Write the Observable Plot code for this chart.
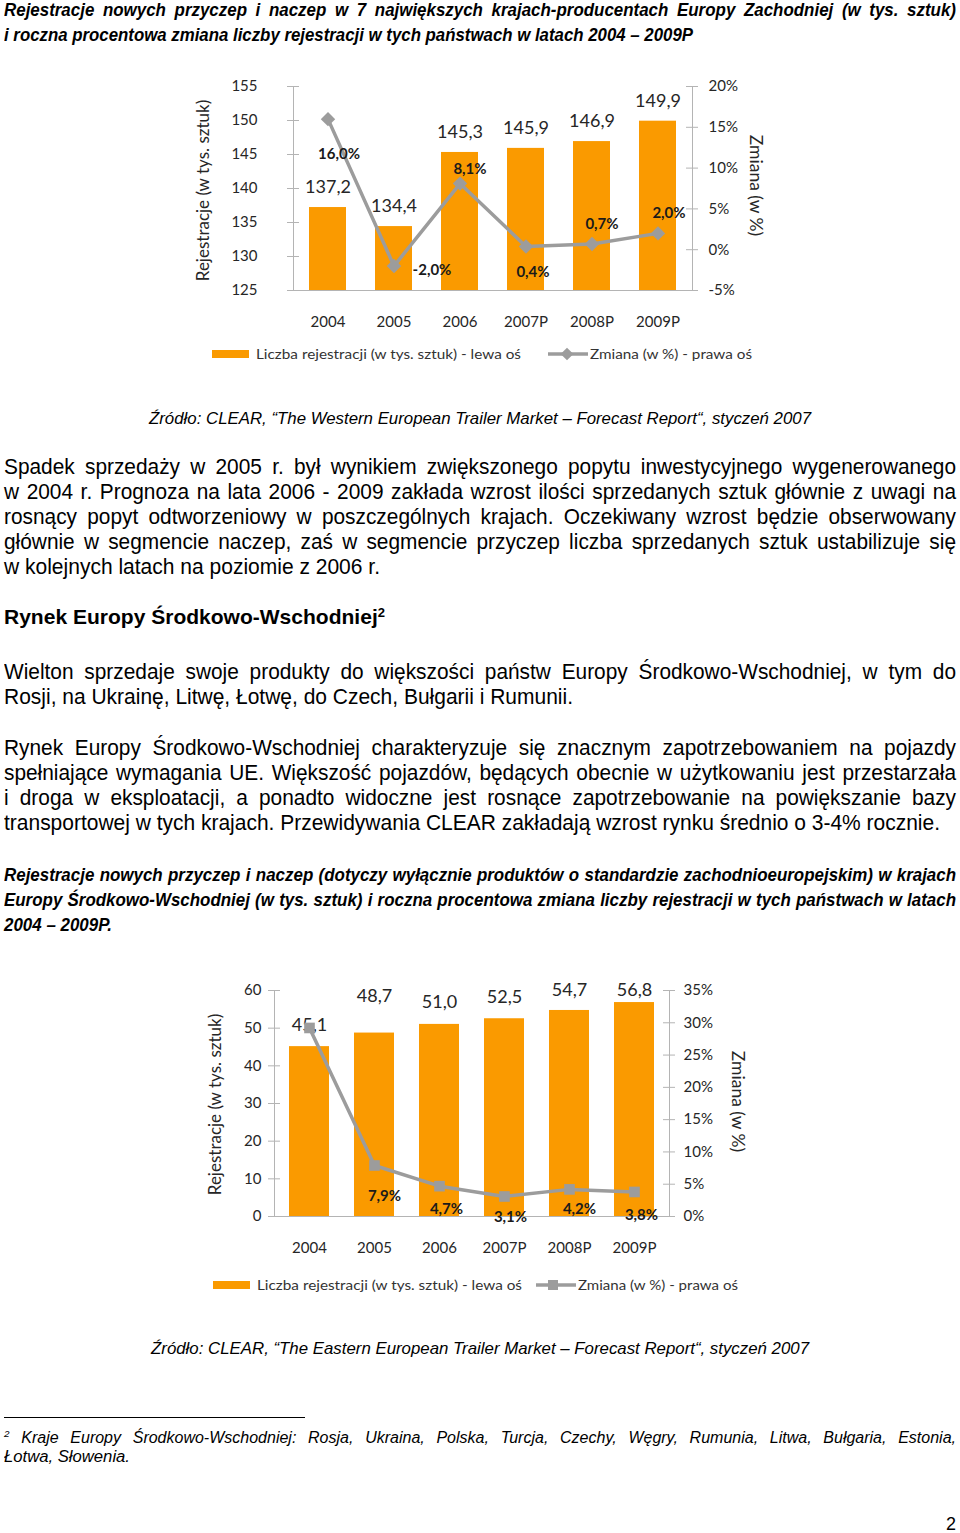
<!DOCTYPE html>
<html lang="pl">
<head>
<meta charset="utf-8">
<script src="https://cdn.jsdelivr.net/npm/d3@7"></script>
<script src="https://cdn.jsdelivr.net/npm/@observablehq/plot@0.6"></script>
<style>
html, body { margin: 0; padding: 0; background: #fff; }
#page { position: relative; width: 960px; height: 1533px; overflow: hidden;
  font-family: "Liberation Sans", Arial, sans-serif; color: #000; }
.ln { position: absolute; white-space: nowrap; transform-origin: 0 50%; }
.ln span.in { display: inline-block; transform-origin: 0 50%; }
.chart { position: absolute; }
.chart svg { position: absolute; left: 0; top: 0; }
sup { font-size: 0.62em; vertical-align: 0; position: relative; top: -0.55em; }
.sw { position: absolute; }
</style>
</head>
<body>
<div id="page"></div>
<script>
// ---------------- DATA ----------------
const years = ["2004", "2005", "2006", "2007P", "2008P", "2009P"];
const westRegistrations = [137.2, 134.4, 145.3, 145.9, 146.9, 149.9];
const westChangePct = [16.0, -2.0, 8.1, 0.4, 0.7, 2.0];
const eastRegistrations = [45.1, 48.7, 51.0, 52.5, 54.7, 56.8];
const eastChangePct = [29.2, 7.9, 4.7, 3.1, 4.2, 3.8];
const westLeftTicks = [125, 130, 135, 140, 145, 150, 155];
const westRightTicks = [-5, 0, 5, 10, 15, 20];
const eastLeftTicks = [0, 10, 20, 30, 40, 50, 60];
const eastRightTicks = [0, 5, 10, 15, 20, 25, 30, 35];
const eastHiddenChangeLabels = ["2004"];

const leftAxisTitle = "Rejestracje (w tys. sztuk)";
const rightAxisTitle = "Zmiana (w %)";
const legendBars = "Liczba rejestracji (w tys. sztuk) - lewa oś";
const legendLine = "Zmiana (w %) - prawa oś";

// ---------------- TEXT ----------------
const title1 = [
  "Rejestracje nowych przyczep i naczep w 7 największych krajach-producentach Europy Zachodniej (w tys. sztuk)",
  "i roczna procentowa zmiana liczby rejestracji w tych państwach w latach 2004 – 2009P"
];
const source1 = "Źródło: CLEAR, “The Western European Trailer Market – Forecast Report“, styczeń 2007";
const para1 = [
  "Spadek sprzedaży w 2005 r. był wynikiem zwiększonego popytu inwestycyjnego wygenerowanego",
  "w 2004 r. Prognoza na lata 2006 - 2009 zakłada wzrost ilości sprzedanych sztuk głównie z uwagi na",
  "rosnący popyt odtworzeniowy w poszczególnych krajach. Oczekiwany wzrost będzie obserwowany",
  "głównie w segmencie naczep, zaś w segmencie przyczep liczba sprzedanych sztuk ustabilizuje się",
  "w kolejnych latach na poziomie z 2006 r."
];
const heading = "Rynek Europy Środkowo-Wschodniej<sup>2</sup>";
const para2 = [
  "Wielton sprzedaje swoje produkty do większości państw Europy Środkowo-Wschodniej, w tym do",
  "Rosji, na Ukrainę, Litwę, Łotwę, do Czech, Bułgarii i Rumunii."
];
const para3 = [
  "Rynek Europy Środkowo-Wschodniej charakteryzuje się znacznym zapotrzebowaniem na pojazdy",
  "spełniające wymagania UE. Większość pojazdów, będących obecnie w użytkowaniu jest przestarzała",
  "i droga w eksploatacji, a ponadto widoczne jest rosnące zapotrzebowanie na powiększanie bazy",
  "transportowej w tych krajach. Przewidywania CLEAR zakładają wzrost rynku średnio o 3-4% rocznie."
];
const title2 = [
  "Rejestracje nowych przyczep i naczep (dotyczy wyłącznie produktów o standardzie zachodnioeuropejskim) w krajach",
  "Europy Środkowo-Wschodniej (w tys. sztuk) i roczna procentowa zmiana liczby rejestracji w tych państwach w latach",
  "2004 – 2009P."
];
const source2 = "Źródło: CLEAR, “The Eastern European Trailer Market – Forecast Report“, styczeń 2007";
const footnote = [
  "<sup>2</sup> Kraje Europy Środkowo-Wschodniej: Rosja, Ukraina, Polska, Turcja, Czechy, Węgry, Rumunia, Litwa, Bułgaria, Estonia,",
  "Łotwa, Słowenia."
];
const pageNumber = "2";

// ---------------- STYLE ----------------
const ORANGE = "#FA9A00";
const AXIS = "#B4B4B4";
const GRAY = "#9C9C9C";
const TEXT = "#262626";
const CHART_FONT = "Lato, 'Open Sans', sans-serif";

const page = document.getElementById("page");

function addLine(html, o) {
  const lh = o.lh || Math.round(o.size * 1.25);
  const hs = o.hs || 1;
  const div = document.createElement("div");
  div.className = "ln";
  Object.assign(div.style, {
    left: o.x + "px", top: (o.y - lh / 2) + "px", height: lh + "px", lineHeight: lh + "px",
    fontSize: o.size + "px", fontWeight: o.bold ? "bold" : "normal",
    fontStyle: o.italic ? "italic" : "normal", color: o.color || "#000"
  });
  if (o.font) div.style.fontFamily = o.font;
  const span = document.createElement("span");
  span.className = "in";
  span.innerHTML = html;
  div.appendChild(span);
  page.appendChild(div);
  const w = span.getBoundingClientRect().width;
  if (o.justify && w * hs <= o.w) {
    div.style.width = (o.w / hs) + "px";
    div.style.whiteSpace = "normal";
    div.style.textAlign = "justify";
    div.style.textAlignLast = "justify";
    div.style.transform = `scaleX(${hs})`;
    span.style.display = "inline";
  } else {
    span.style.transform = `scaleX(${o.w / w})`;
  }
}

function block(lines, o) {
  lines.forEach((t, i) => {
    const last = i === lines.length - 1;
    addLine(t, {...o, y: o.y + i * o.pitch, w: last && o.lastW ? o.lastW : o.w, justify: !last || o.justifyLast});
  });
}

// text blocks
block(title1, {x: 4, y: 10, pitch: 25, size: 18, hs: 0.94, bold: true, italic: true, w: 952, lastW: 689});
addLine(source1, {x: 149, y: 418, size: 16.5, italic: true, w: 662});
block(para1, {x: 4, y: 467, pitch: 25, size: 21.5, hs: 0.97, w: 952, lastW: 376});
addLine(heading, {x: 4, y: 617, size: 20.5, bold: true, w: 381});
block(para2, {x: 4, y: 672, pitch: 25, size: 21.5, hs: 0.97, w: 952, lastW: 569});
block(para3, {x: 4, y: 748, pitch: 25, size: 21.5, hs: 0.97, w: 952, lastW: 936});
block(title2, {x: 4, y: 875, pitch: 25, size: 18, hs: 0.94, bold: true, italic: true, w: 952, lastW: 108});
addLine(source2, {x: 151, y: 1348, size: 16.5, italic: true, w: 658});
block(footnote, {x: 4, y: 1437, pitch: 19, size: 16, italic: true, w: 952, lastW: 126, lh: 19});
addLine(pageNumber, {x: 946, y: 1524, size: 18, w: 10});

const rule = document.createElement("div");
Object.assign(rule.style, {position: "absolute", left: "4px", top: "1417px", width: "301px", height: "1px", background: "#000"});
page.appendChild(rule);

// ---------------- CHARTS ----------------
const fmtNum = v => v.toFixed(1).replace(".", ",");
const fmtPct = v => v.toFixed(1).replace(".", ",") + "%";

function dualChart(c) {
  const wrap = document.createElement("div");
  wrap.className = "chart";
  Object.assign(wrap.style, {left: c.left + "px", top: c.top + "px", width: c.width + "px", height: c.height + "px"});
  page.appendChild(wrap);

  const data = years.map((year, i) => ({year, reg: c.reg[i], chg: c.chg[i], i}));
  const fw = c.width - c.marginLeft - c.marginRight;
  const common = {
    width: c.width, height: c.height,
    marginTop: c.marginTop, marginBottom: c.marginBottom, marginLeft: c.marginLeft, marginRight: c.marginRight,
    style: {fontFamily: CHART_FONT, fontSize: "15px", color: TEXT, background: "transparent", overflow: "visible"}
  };
  const xOpt = {type: "band", domain: years, paddingInner: c.padding, paddingOuter: c.padding / 2, label: null};
  const base = c.leftDomain[0];

  const bars = Plot.plot({
    ...common,
    x: {...xOpt},
    y: {domain: c.leftDomain, label: null},
    marks: [
      Plot.barY(data, {x: "year", y1: () => base, y2: "reg", fill: ORANGE}),
      Plot.ruleY(c.leftTicks, {stroke: AXIS, insetLeft: -6, insetRight: fw - 6}),
      Plot.ruleY([base], {stroke: AXIS}),
      Plot.frame({anchor: "left", stroke: AXIS}),
      Plot.axisY({anchor: "left", ticks: c.leftTicks, tickSize: 0, tickPadding: c.leftPad, label: null, tickFormat: d => String(d)}),
      Plot.axisX({tickSize: 0, tickPadding: 26, label: null}),
      ...data.map(d => Plot.text([d], {x: "year", y: "reg", text: e => fmtNum(e.reg), dy: c.barDy[d.i], fontSize: 18})),
      Plot.text([leftAxisTitle], {frameAnchor: "left", textAnchor: "middle", text: d => d, rotate: -90, dx: c.leftTitleDx, dy: c.leftTitleDy || 0, fontSize: 17})
    ]
  });

  const line = Plot.plot({
    ...common,
    x: {...xOpt, axis: null},
    y: {domain: c.rightDomain, label: null},
    marks: [
      Plot.ruleY(c.rightTicks, {stroke: AXIS, insetLeft: fw - 6, insetRight: -6}),
      Plot.frame({anchor: "right", stroke: AXIS}),
      Plot.axisY({anchor: "right", ticks: c.rightTicks, tickSize: 0, tickPadding: c.rightPad, label: null, tickFormat: d => d + "%"}),
      Plot.line(data, {x: "year", y: "chg", stroke: GRAY, strokeWidth: 3.5}),
      Plot.dot(data, {x: "year", y: "chg", symbol: c.symbol, r: c.symbolR, fill: GRAY, stroke: "none"}),
      ...data.filter(d => !(c.hidden || []).includes(d.year)).map(d =>
        Plot.text([d], {x: "year", y: "chg", text: e => fmtPct(e.chg), dx: c.pctDx[d.i], dy: c.pctDy[d.i], fontSize: 15, fontWeight: "bold", fill: "#1a1a1a"})),
      Plot.text([rightAxisTitle], {frameAnchor: "right", textAnchor: "middle", text: d => d, rotate: 90, dx: c.rightTitleDx, dy: c.rightTitleDy || 0, fontSize: 17.5})
    ]
  });
  wrap.appendChild(bars);
  wrap.appendChild(line);
}

function legend(l) {
  const r = document.createElement("div");
  r.className = "sw";
  Object.assign(r.style, {left: l.rectX + "px", top: (l.y - 4) + "px", width: "37px", height: "8px", background: ORANGE});
  page.appendChild(r);
  addLine(legendBars, {x: l.textX, y: l.y, size: 13, w: l.textW, font: CHART_FONT, color: "#333"});
  const s = document.createElement("div");
  s.className = "sw";
  Object.assign(s.style, {left: l.lineX + "px", top: (l.y - 8) + "px", width: "40px", height: "16px"});
  const m = l.marker === "diamond"
    ? `<rect x="${l.markX - 4.5}" y="3.5" width="9" height="9" fill="${GRAY}" transform="rotate(45 ${l.markX} 8)"/>`
    : `<rect x="${l.markX - 5}" y="3" width="10" height="10" fill="${GRAY}"/>`;
  s.innerHTML = `<svg width="40" height="16"><line x1="0" x2="40" y1="8" y2="8" stroke="${GRAY}" stroke-width="3.5"/>${m}</svg>`;
  page.appendChild(s);
  addLine(legendLine, {x: l.text2X, y: l.y, size: 13, w: l.text2W, font: CHART_FONT, color: "#333"});
}

dualChart({
  left: 180, top: 60, width: 600, height: 280,
  marginTop: 26, marginBottom: 50, marginLeft: 113, marginRight: 88,
  padding: 0.44,
  reg: westRegistrations, chg: westChangePct,
  leftDomain: [125, 155], rightDomain: [-5, 20],
  leftTicks: westLeftTicks, rightTicks: westRightTicks,
  leftPad: 36, rightPad: 16,
  barDy: [-20, -20, -20, -20, -20, -20],
  pctDx: [11, 38, 10, 7, 10, 11],
  pctDy: [35, 4, -14, 26, -20, -20],
  symbol: "diamond2", symbolR: 6.5,
  leftTitleDx: -90, leftTitleDy: 2, rightTitleDx: 63, rightTitleDy: -3
});
legend({y: 354, rectX: 212, textX: 256, textW: 265, lineX: 548, markX: 19, marker: "diamond", text2X: 590, text2W: 162});

dualChart({
  left: 180, top: 960, width: 580, height: 300,
  marginTop: 30, marginBottom: 44, marginLeft: 94, marginRight: 91,
  padding: 0.39,
  reg: eastRegistrations, chg: eastChangePct,
  leftDomain: [0, 60], rightDomain: [0, 35],
  leftTicks: eastLeftTicks, rightTicks: eastRightTicks,
  leftPad: 13, rightPad: 14,
  barDy: [-21, -37, -22, -22, -20.5, -12.6],
  pctDx: [0, 10, 7, 6, 10, 7],
  pctDy: [0, 31, 23, 21, 19.5, 23],
  hidden: eastHiddenChangeLabels,
  symbol: "square", symbolR: 6,
  leftTitleDx: -59, leftTitleDy: 1, rightTitleDx: 68, rightTitleDy: -2
});
legend({y: 1285, rectX: 213, textX: 257, textW: 265, lineX: 536, markX: 17, marker: "square", text2X: 578, text2W: 160});
</script>
</body>
</html>
